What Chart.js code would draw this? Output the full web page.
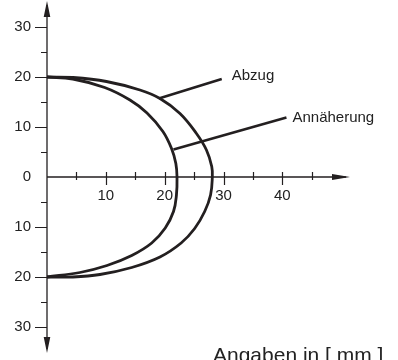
<!DOCTYPE html>
<html>
<head>
<meta charset="utf-8">
<script src="https://cdn.jsdelivr.net/npm/chart.js@4/dist/chart.umd.min.js"></script>
<style>
  html, body { margin: 0; padding: 0; background: #fff; }
  #wrap { width: 398px; height: 360px; }
</style>
</head>
<body>
<div id="wrap"><canvas id="chart" width="398" height="360"></canvas></div>
<script>
// Abzug (outer curve), values in mm
var abzugX = [0, 4.4, 10.1, 15.8, 19.2, 22.6, 25.4, 27.1, 28.0, 28.1, 27.8, 26.8, 25.1, 22.8, 19.2, 14.4, 9.0, 4.4, 0];
var abzugY = [20, 19.9, 19.1, 17.4, 15.7, 12.7, 8.7, 5.4, 2.1, 0, -3.6, -6.9, -10.3, -13.2, -16.0, -18.1, -19.5, -20.0, -20];

// Annäherung (inner curve)
var annX = [0, 4.4, 9.8, 14.1, 17.0, 19.7, 21.2, 21.9, 22.1, 22.0, 21.5, 20.1, 17.8, 14.4, 10.2, 5.6, 0];
var annY = [20, 19.6, 17.9, 15.4, 12.8, 9.1, 5.6, 2.7, 0, -3.6, -6.9, -10.2, -13.2, -15.7, -17.7, -19.1, -20];

// leader lines from the curves to their labels
var abzugLeaderX = [19.0, 29.7];
var abzugLeaderY = [15.7, 19.6];
var annLeaderX = [21.5, 40.7];
var annLeaderY = [5.5, 11.9];

var seriesNames = ['Abzug', 'Annäherung'];
var xTicks = [5, 10, 15, 20, 25, 30, 35, 40, 45];
var xTickLabels = [10, 20, 30, 40];
var yTicks = [-30, -25, -20, -15, -10, -5, 0, 5, 10, 15, 20, 25, 30];
var yTickLabels = [-30, -20, -10, 0, 10, 20, 30];
var unitText = 'Angaben in [ mm ]';

var ink = '#231f20';
var font = '"Liberation Sans", Arial, sans-serif';

function pts(xs, ys) {
  return xs.map(function(x, i) { return { x: x, y: ys[i] }; });
}

function lineSet(xs, ys, width, tension) {
  return {
    data: pts(xs, ys),
    showLine: true,
    borderColor: ink,
    borderWidth: width,
    pointRadius: 0,
    tension: tension,
    clip: false
  };
}

// axes with arrows, tick marks and labels
var axesPlugin = {
  id: 'axes',
  beforeDatasetsDraw: function(chart) {
    var c = chart.ctx;
    var xs = chart.scales.x, ys = chart.scales.y;
    var x0 = xs.getPixelForValue(0), y0 = ys.getPixelForValue(0);
    var xEnd = xs.getPixelForValue(xs.max);
    var yTop = ys.getPixelForValue(ys.max), yBot = ys.getPixelForValue(ys.min);

    c.save();
    c.strokeStyle = ink;
    c.fillStyle = ink;
    c.lineWidth = 1.3;

    c.beginPath();
    c.moveTo(x0, yTop + 4); c.lineTo(x0, yBot - 4);
    c.moveTo(x0, y0); c.lineTo(xEnd - 4, y0);
    c.stroke();

    // arrow heads
    c.beginPath();
    c.moveTo(x0, yTop); c.lineTo(x0 - 3.3, yTop + 16); c.lineTo(x0 + 3.3, yTop + 16); c.closePath();
    c.moveTo(x0, yBot); c.lineTo(x0 - 3.3, yBot - 16); c.lineTo(x0 + 3.3, yBot - 16); c.closePath();
    c.moveTo(xEnd, y0); c.lineTo(xEnd - 18, y0 - 3); c.lineTo(xEnd - 18, y0 + 3); c.closePath();
    c.fill();

    c.lineWidth = 1.2;
    c.beginPath();
    yTicks.forEach(function(v) {
      if (v === 0) return;
      var py = Math.round(ys.getPixelForValue(v)) + 0.5;
      var len = (v % 10 === 0) ? 12 : 6;
      c.moveTo(x0 - len, py); c.lineTo(x0, py);
    });
    xTicks.forEach(function(v) {
      var px = Math.round(xs.getPixelForValue(v)) + 0.5;
      var down = (v % 10 === 0) ? 8 : 3;
      c.moveTo(px, y0 - 5); c.lineTo(px, y0 + down);
    });
    c.stroke();

    c.font = '15px ' + font;
    c.fillStyle = '#222';
    c.textAlign = 'right';
    c.textBaseline = 'middle';
    yTickLabels.forEach(function(v) {
      c.fillText(String(Math.abs(v)), x0 - 16, ys.getPixelForValue(v));
    });
    c.textAlign = 'center';
    xTickLabels.forEach(function(v) {
      c.fillText(String(v), xs.getPixelForValue(v), y0 + 19);
    });
    c.restore();
  },
  afterDraw: function(chart) {
    var c = chart.ctx;
    var xs = chart.scales.x, ys = chart.scales.y;
    c.save();
    c.fillStyle = '#222';
    c.font = '15px ' + font;
    c.textAlign = 'left';
    c.textBaseline = 'alphabetic';
    c.fillText(seriesNames[0], xs.getPixelForValue(abzugLeaderX[1]) + 10, ys.getPixelForValue(abzugLeaderY[1]) + 1);
    c.fillText(seriesNames[1], xs.getPixelForValue(annLeaderX[1]) + 6, ys.getPixelForValue(annLeaderY[1]) + 4);
    c.font = '21px ' + font;
    c.fillText(unitText, 213, 362);
    c.restore();
  }
};

new Chart(document.getElementById('chart'), {
  type: 'scatter',
  data: {
    datasets: [
      lineSet(abzugX, abzugY, 2.8, 0.4),
      lineSet(annX, annY, 2.8, 0.4),
      lineSet(abzugLeaderX, abzugLeaderY, 2.6, 0),
      lineSet(annLeaderX, annLeaderY, 2.6, 0)
    ]
  },
  options: {
    responsive: false,
    animation: false,
    devicePixelRatio: 1,
    layout: { padding: { left: 47, right: 48, top: 1, bottom: 7 } },
    plugins: { legend: { display: false }, tooltip: { enabled: false } },
    scales: {
      x: { type: 'linear', min: 0, max: 51.5, display: false },
      y: { type: 'linear', min: -35.2, max: 35.2, display: false }
    }
  },
  plugins: [axesPlugin]
});
</script>
</body>
</html>
